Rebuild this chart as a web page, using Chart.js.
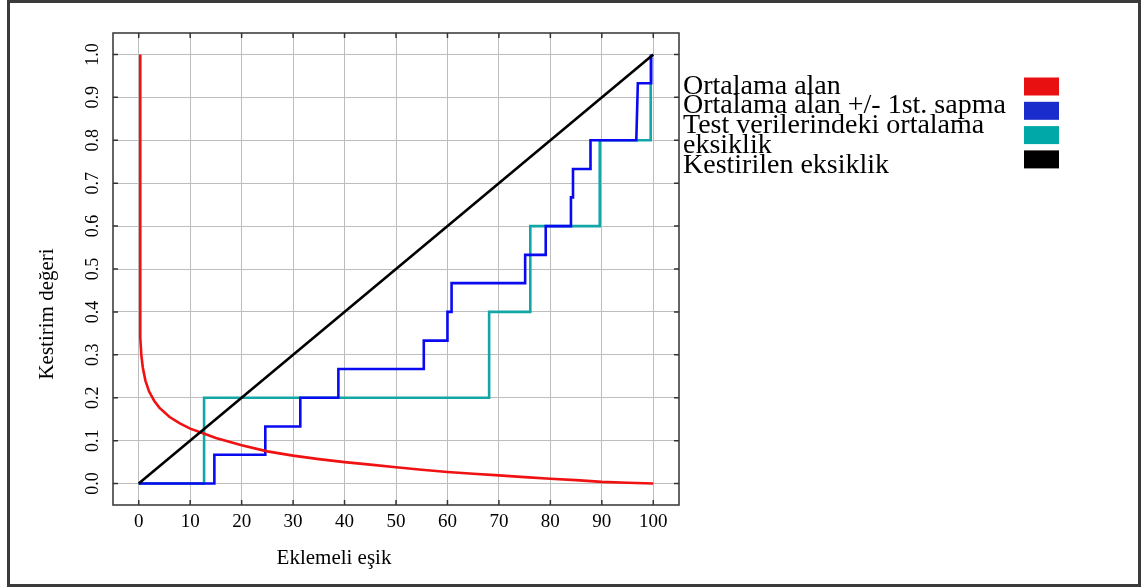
<!DOCTYPE html>
<html>
<head>
<meta charset="utf-8">
<script src="https://cdn.jsdelivr.net/npm/chart.js@4/dist/chart.umd.min.js"></script>
<style>
  body { margin: 0; background: #fff; }
  #frame { position: absolute; left: 7px; top: 0; width: 1134px; height: 587px; box-sizing: border-box; border: 3px solid #3a3a3a; }
  #wrap { position: absolute; left: 0; top: 0; width: 1147px; height: 587px; }
</style>
</head>
<body>
<div id="frame"></div>
<div id="wrap"><canvas id="mycanvas" width="1147" height="587"></canvas></div>
<script>
var xTicks = [0, 10, 20, 30, 40, 50, 60, 70, 80, 90, 100];
var yTicks = [0.0, 0.1, 0.2, 0.3, 0.4, 0.5, 0.6, 0.7, 0.8, 0.9, 1.0];

// Ortalama alan
var redX = [0.3, 0.3, 0.5, 0.8, 1.3, 2, 3, 4, 6, 8, 10, 12.5, 15, 20, 25, 30, 35, 40, 45, 50, 55, 60, 65, 70, 75, 80, 85, 90, 95, 100];
var redY = [1.0, 0.34, 0.3, 0.27, 0.24, 0.215, 0.193, 0.177, 0.155, 0.14, 0.128, 0.117, 0.106, 0.089, 0.075, 0.065, 0.057, 0.05, 0.044, 0.038, 0.032, 0.027, 0.023, 0.019, 0.015, 0.011, 0.008, 0.004, 0.002, 0.0];

// Ortalama alan +/- 1st. sapma
var blueX = [0, 14.7, 14.7, 24.6, 24.6, 31.4, 31.4, 38.8, 38.8, 55.4, 55.4, 60.0, 60.0, 60.8, 60.8, 75.1, 75.1, 79.1, 79.1, 84.0, 84.0, 84.4, 84.4, 87.8, 87.8, 96.7, 97.0, 99.6, 99.6];
var blueY = [0, 0, 0.067, 0.067, 0.133, 0.133, 0.2, 0.2, 0.267, 0.267, 0.333, 0.333, 0.4, 0.4, 0.467, 0.467, 0.533, 0.533, 0.6, 0.6, 0.667, 0.667, 0.733, 0.733, 0.8, 0.8, 0.933, 0.933, 1.0];

// Test verilerindeki ortalama eksiklik
var tealX = [0, 12.7, 12.7, 68.1, 68.1, 76.1, 76.1, 89.6, 89.6, 99.5, 99.5];
var tealY = [0, 0, 0.2, 0.2, 0.4, 0.4, 0.6, 0.6, 0.8, 0.8, 1.0];

// Kestirilen eksiklik
var blackX = [0, 100];
var blackY = [0, 1.0];

var legendLabels = ['Ortalama alan', 'Ortalama alan +/- 1st. sapma', 'Test verilerindeki ortalama', 'eksiklik', 'Kestirilen eksiklik'];
var legendColors = ['#e81010', '#1a2ccc', '#00a8a8', '#000000'];

var toPoints = function(xs, ys) {
    var pts = [];
    for (var i = 0; i < xs.length; i++) {
        pts.push({ x: xs[i], y: ys[i] });
    }
    return pts;
};

var serif = '"Liberation Serif", "DejaVu Serif", serif';

var framePlugin = {
    id: 'framePlugin',
    afterDraw: function(chart) {
        var ctx = chart.ctx;
        var a = chart.chartArea;
        var xs = chart.scales.x;
        var ys = chart.scales.y;
        ctx.save();
        // plot frame
        ctx.strokeStyle = '#333';
        ctx.lineWidth = 1.5;
        ctx.strokeRect(a.left, a.top, a.right - a.left, a.bottom - a.top);
        // inside ticks
        ctx.beginPath();
        xTicks.forEach(function(v) {
            var px = xs.getPixelForValue(v);
            ctx.moveTo(px, a.bottom); ctx.lineTo(px, a.bottom - 5);
            ctx.moveTo(px, a.top); ctx.lineTo(px, a.top + 5);
        });
        yTicks.forEach(function(v) {
            var py = ys.getPixelForValue(v);
            ctx.moveTo(a.left, py); ctx.lineTo(a.left + 5, py);
            ctx.moveTo(a.right, py); ctx.lineTo(a.right - 5, py);
        });
        ctx.stroke();

        // y tick labels, rotated
        ctx.fillStyle = '#000';
        ctx.font = '18px ' + serif;
        ctx.textAlign = 'center';
        ctx.textBaseline = 'middle';
        yTicks.forEach(function(v) {
            var py = ys.getPixelForValue(v);
            ctx.save();
            ctx.translate(93, py);
            ctx.rotate(-Math.PI / 2);
            ctx.fillText(v.toFixed(1), 0, 0);
            ctx.restore();
        });

        // axis titles
        ctx.font = '21px ' + serif;
        ctx.save();
        ctx.translate(47, 314);
        ctx.rotate(-Math.PI / 2);
        ctx.fillText('Kestirim değeri', 0, 0);
        ctx.restore();
        ctx.fillText('Eklemeli eşik', 334, 558);

        // legend
        ctx.font = '28px ' + serif;
        ctx.textAlign = 'left';
        ctx.textBaseline = 'alphabetic';
        ctx.fillStyle = '#000';
        for (var i = 0; i < legendLabels.length; i++) {
            ctx.fillText(legendLabels[i], 683, 93.5 + i * 19.8);
        }
        for (var j = 0; j < legendColors.length; j++) {
            ctx.fillStyle = legendColors[j];
            ctx.fillRect(1024, 77.5 + j * 24.3, 35, 18);
        }
        ctx.restore();
    }
};

var chartdata = {
    datasets: [
        { label: legendLabels[0], data: toPoints(redX, redY), borderColor: '#f01212', order: 1 },
        { label: legendLabels[1], data: toPoints(blueX, blueY), borderColor: '#0a0af0', order: 2 },
        { label: legendLabels[2] + ' ' + legendLabels[3], data: toPoints(tealX, tealY), borderColor: '#12a6a6', order: 3 },
        { label: legendLabels[4], data: toPoints(blackX, blackY), borderColor: '#000000', order: 0 }
    ]
};
chartdata.datasets.forEach(function(d) {
    d.showLine = true;
    d.pointRadius = 0;
    d.borderWidth = 2.6;
    d.tension = 0;
    d.fill = false;
});

var ctx = document.getElementById('mycanvas');

var chart = new Chart(ctx, {
    type: 'scatter',
    data: chartdata,
    plugins: [framePlugin],
    options: {
        responsive: false,
        animation: false,
        layout: { padding: { left: 0, top: 33, right: 468, bottom: 0 } },
        plugins: { legend: { display: false }, tooltip: { enabled: false } },
        scales: {
            x: {
                type: 'linear',
                min: -5,
                max: 105,
                afterBuildTicks: function(scale) {
                    scale.ticks = xTicks.map(function(v) { return { value: v }; });
                },
                afterFit: function(scale) { scale.height = 82; },
                grid: { color: '#bdbdbd', lineWidth: 1, drawTicks: false },
                border: { display: false },
                ticks: { color: '#000', padding: 6, maxRotation: 0, font: { family: serif, size: 19 } }
            },
            y: {
                type: 'linear',
                min: -0.05,
                max: 1.05,
                afterBuildTicks: function(scale) {
                    scale.ticks = yTicks.map(function(v) { return { value: v }; });
                },
                afterFit: function(scale) { scale.width = 113; },
                grid: { color: '#bdbdbd', lineWidth: 1, drawTicks: false },
                border: { display: false },
                ticks: { display: false }
            }
        }
    }
});
</script>
</body>
</html>
